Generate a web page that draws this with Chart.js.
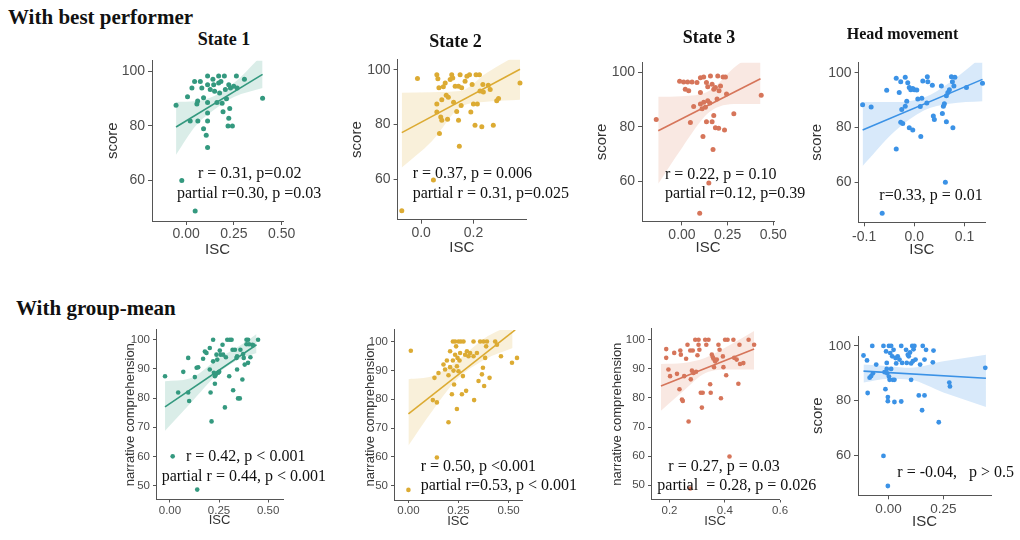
<!DOCTYPE html>
<html>
<head>
<meta charset="utf-8">
<script src="https://cdn.jsdelivr.net/npm/chart.js@4.4.1/dist/chart.umd.min.js"></script>
<style>
  body { margin: 0; background: #fff; }
  #page { position: relative; width: 1020px; height: 540px; overflow: hidden; background: #fff; }
  #page canvas { position: absolute; }
  .txt { position: absolute; white-space: pre; font-family: "Liberation Serif", "Times New Roman", serif; color: #111; line-height: 1; z-index: 5; }
  .hdr { font-weight: bold; font-size: 21px; }
  .ttl { font-weight: bold; text-align: center; width: 200px; }
</style>
</head>
<body>
<div id="page"></div>
<script>
// ---- With best performer: State 1
const bp1Isc = [-0.053, 0.007, 0.021, 0.030, 0.044, 0.056, 0.060, 0.061, 0.074, 0.082, 0.091, 0.091, 0.105, 0.112, 0.112, 0.112, 0.112, 0.112, 0.112, 0.126, 0.140, 0.144, 0.149, 0.161, 0.170, 0.170, 0.175, 0.182, 0.188, 0.193, 0.200, 0.205, 0.211, 0.223, 0.228, 0.223, 0.219, 0.242, 0.232, 0.249, 0.263, 0.267, 0.305, 0.400, -0.023, 0.047];
const bp1Score = [87.5, 90.6, 81.7, 93.8, 96.2, 87.9, 89.0, 81.7, 96.2, 93.8, 90.2, 78.9, 76.5, 98.2, 95.0, 88.5, 84.6, 81.7, 72.0, 93.2, 97.0, 95.0, 92.6, 88.5, 98.2, 95.6, 92.0, 96.2, 88.2, 85.1, 98.2, 93.2, 89.9, 95.0, 86.3, 82.7, 79.9, 79.9, 93.8, 94.4, 98.2, 93.8, 97.0, 90.0, 59.9, 48.8];
const bp1LineX = [-0.053, 0.40];
const bp1LineY = [79.5, 98.8];
const bp1BandX = [-0.053, 0.05, 0.15, 0.25, 0.40];
const bp1BandHi = [88.7, 89.0, 91.0, 95.6, 106];
const bp1BandLo = [69.4, 80.0, 86.0, 90.5, 93.8];

// ---- With best performer: State 2
const bp2Isc = [-0.074, -0.014, 0.047, 0.060, 0.064, 0.068, 0.060, 0.070, 0.075, 0.079, 0.079, 0.085, 0.092, 0.096, 0.101, 0.104, 0.111, 0.117, 0.121, 0.124, 0.130, 0.136, 0.143, 0.143, 0.146, 0.149, 0.153, 0.155, 0.168, 0.175, 0.185, 0.190, 0.195, 0.200, 0.206, 0.210, 0.215, 0.223, 0.225, 0.232, 0.236, 0.238, 0.257, 0.264, 0.276, 0.289, 0.296, 0.378, 0.060];
const bp2Score = [48.4, 96.8, 59.6, 98.2, 96.7, 93.4, 87.5, 76.7, 82.7, 81.5, 89.0, 93.8, 95.2, 90.7, 81.9, 89.9, 96.4, 98.2, 97.0, 88.1, 94.0, 84.7, 81.5, 94.0, 72.0, 98.2, 86.9, 93.4, 95.8, 97.6, 98.2, 84.5, 94.6, 87.5, 79.7, 98.2, 87.5, 98.2, 92.2, 79.1, 94.6, 91.9, 94.3, 92.8, 79.7, 88.7, 89.5, 95.2, 84.5];
const bp2LineX = [-0.074, 0.378];
const bp2LineY = [77.0, 100.2];
const bp2BandX = [-0.074, 0.04, 0.15, 0.25, 0.378];
const bp2BandHi = [91.6, 91.8, 92.2, 98.8, 106];
const bp2BandLo = [64.2, 73.7, 86.3, 88.3, 89.0];

// ---- With best performer: State 3
const bp3Isc = [-0.141, 0.046, 0.064, -0.013, 0.009, 0.031, 0.055, 0.082, 0.018, 0.037, 0.101, 0.119, 0.134, 0.141, 0.156, 0.165, 0.174, 0.183, 0.196, 0.203, 0.211, 0.225, 0.238, 0.101, 0.110, 0.119, 0.101, 0.128, 0.134, 0.115, 0.141, 0.152, 0.165, 0.174, 0.183, 0.201, 0.192, 0.170, 0.233, 0.244, 0.284, 0.434, 0.147, 0.097];
const bp3Score = [82.7, 81.6, 87.5, 96.7, 96.4, 96.4, 96.4, 96.2, 93.8, 93.2, 98.0, 98.3, 96.2, 94.7, 98.6, 95.6, 93.8, 94.4, 98.6, 93.2, 95.0, 98.3, 98.3, 88.4, 86.6, 89.0, 92.6, 87.2, 81.9, 76.5, 89.6, 88.7, 81.9, 84.2, 79.7, 79.5, 90.2, 71.7, 78.9, 92.0, 84.8, 91.6, 59.5, 48.4];
const bp3LineX = [-0.13, 0.43];
const bp3LineY = [78.6, 97.6];
const bp3BandX = [-0.13, 0.0, 0.15, 0.30, 0.43];
const bp3BandHi = [91.0, 91.2, 93.2, 102.5, 107];
const bp3BandLo = [59.2, 72.3, 85.4, 88.4, 88.4];

// ---- With best performer: Head movement
const bp4Isc = [-0.103, -0.086, -0.055, -0.036, -0.030, -0.027, -0.018, -0.013, -0.010, -0.007, -0.003, 0.000, 0.005, 0.007, -0.015, -0.025, -0.018, -0.027, -0.023, -0.010, -0.003, -0.036, 0.013, 0.015, 0.012, 0.017, 0.026, 0.027, 0.025, 0.036, 0.038, 0.040, 0.054, 0.056, 0.058, 0.060, 0.064, 0.064, 0.067, 0.070, 0.074, 0.076, 0.079, 0.081, 0.077, 0.104, 0.136, 0.062, -0.064];
const bp4Score = [88.3, 87.5, 93.6, 98.0, 92.8, 96.7, 98.4, 96.4, 94.6, 93.8, 94.3, 93.8, 93.7, 90.4, 89.6, 86.6, 87.8, 81.9, 81.5, 79.9, 79.1, 72.2, 76.7, 90.7, 87.7, 97.0, 98.6, 96.7, 89.0, 95.5, 84.2, 82.9, 95.2, 85.1, 87.8, 88.7, 82.1, 91.6, 92.8, 93.8, 98.6, 96.7, 95.2, 98.4, 79.9, 94.6, 96.2, 60.0, 48.7];
const bp4LineX = [-0.103, 0.136];
const bp4LineY = [79.1, 97.6];
const bp4BandX = [-0.103, -0.04, 0.02, 0.07, 0.136];
const bp4BandHi = [89.3, 89.3, 91.0, 96.4, 106];
const bp4BandLo = [66.0, 78.5, 86.3, 88.7, 89.6];

// ---- With group-mean: State 1
const gm1Isc = [-0.025, 0.042, 0.068, 0.093, 0.093, 0.098, 0.127, 0.136, 0.144, 0.169, 0.178, 0.186, 0.203, 0.203, 0.207, 0.212, 0.220, 0.220, 0.224, 0.229, 0.229, 0.234, 0.237, 0.241, 0.246, 0.251, 0.254, 0.258, 0.268, 0.271, 0.280, 0.285, 0.292, 0.302, 0.305, 0.314, 0.319, 0.322, 0.331, 0.339, 0.342, 0.342, 0.347, 0.356, 0.359, 0.369, 0.373, 0.376, 0.381, 0.390, 0.390, 0.398, 0.398, 0.403, 0.410, 0.420, 0.424, 0.449, 0.014, 0.139];
const gm1Comp = [87.5, 81.9, 89.0, 93.8, 81.9, 79.0, 87.2, 90.4, 90.6, 93.5, 96.0, 95.5, 97.2, 89.8, 81.9, 72.0, 100, 92.6, 88.7, 84.9, 87.5, 88.1, 94.9, 93.2, 88.7, 89.0, 96.3, 94.9, 98.3, 94.9, 76.8, 94.0, 100, 87.5, 100, 100, 96.6, 82.7, 96.6, 93.8, 94.3, 89.8, 79.9, 79.9, 96.6, 86.4, 95.1, 93.8, 91.5, 100, 98.5, 100, 92.1, 98.5, 94.0, 98.3, 98.1, 100, 60.0, 48.6];
const gm1LineX = [-0.025, 0.441];
const gm1LineY = [77.0, 98.3];
const gm1BandX = [-0.025, 0.10, 0.25, 0.35, 0.441];
const gm1BandHi = [85.8, 86.7, 93.8, 97.7, 102.0];
const gm1BandLo = [68.8, 77.9, 88.7, 93.2, 95.5];

// ---- With group-mean: State 2
const gm2Isc = [0.012, 0.000, 0.142, 0.130, 0.150, 0.122, 0.142, 0.192, 0.200, 0.200, 0.208, 0.208, 0.217, 0.222, 0.222, 0.225, 0.228, 0.233, 0.233, 0.238, 0.242, 0.242, 0.245, 0.250, 0.250, 0.255, 0.258, 0.262, 0.267, 0.272, 0.275, 0.283, 0.288, 0.292, 0.300, 0.308, 0.325, 0.325, 0.328, 0.342, 0.350, 0.358, 0.367, 0.372, 0.375, 0.378, 0.383, 0.388, 0.392, 0.405, 0.433, 0.442, 0.462, 0.517, 0.542, 0.175, 0.183];
const gm2Comp = [96.8, 48.6, 59.8, 87.4, 89.1, 79.7, 78.9, 93.4, 72.0, 88.3, 91.1, 96.6, 81.7, 100, 93.4, 89.9, 85.1, 100, 95.4, 98.3, 91.4, 76.6, 94.3, 100, 89.7, 93.4, 96.0, 100, 81.7, 88.0, 100, 95.4, 82.9, 96.6, 94.9, 96.0, 100, 94.9, 79.7, 96.0, 86.3, 100, 88.6, 90.9, 100, 84.6, 94.3, 98.3, 100, 87.4, 100, 98.9, 94.9, 92.6, 94.3, 92.0, 90.3];
const gm2LineX = [0.0, 0.533];
const gm2LineY = [74.9, 104.0];
const gm2BandX = [0.0, 0.12, 0.25, 0.38, 0.52];
const gm2BandHi = [86.9, 88.0, 93.7, 101.1, 106];
const gm2BandLo = [64.0, 76.0, 87.4, 93.7, 97.7];

// ---- With group-mean: State 3
const gm3Isc = [0.188, 0.188, 0.196, 0.202, 0.217, 0.227, 0.236, 0.239, 0.241, 0.245, 0.248, 0.253, 0.260, 0.265, 0.269, 0.275, 0.277, 0.281, 0.284, 0.287, 0.293, 0.296, 0.301, 0.305, 0.305, 0.308, 0.313, 0.317, 0.320, 0.329, 0.333, 0.341, 0.347, 0.349, 0.353, 0.357, 0.359, 0.361, 0.365, 0.371, 0.377, 0.381, 0.386, 0.393, 0.395, 0.401, 0.405, 0.410, 0.417, 0.431, 0.434, 0.443, 0.449, 0.453, 0.455, 0.467, 0.486, 0.506, 0.275];
const gm3Comp = [96.8, 93.8, 89.8, 87.5, 95.5, 88.3, 83.0, 96.3, 94.9, 79.5, 79.0, 87.5, 93.5, 98.3, 71.9, 96.3, 86.4, 89.4, 96.3, 88.6, 100, 89.0, 94.7, 100, 98.3, 96.6, 81.8, 76.7, 81.8, 100, 98.3, 100, 84.7, 81.8, 94.9, 94.0, 93.5, 90.6, 92.6, 93.2, 98.3, 96.6, 79.9, 94.3, 90.6, 100, 87.8, 100, 59.9, 100, 93.8, 93.2, 84.9, 98.3, 91.7, 92.0, 100, 98.3, 48.9];
const gm3LineX = [0.169, 0.506];
const gm3LineY = [84.1, 96.8];
const gm3BandX = [0.169, 0.25, 0.33, 0.42, 0.506];
const gm3BandHi = [91.7, 92.0, 93.8, 98.3, 103.0];
const gm3BandLo = [75.6, 82.4, 88.6, 89.8, 89.8];

// ---- With group-mean: Head movement
const gm4Isc = [-0.114, -0.098, -0.095, -0.086, -0.079, -0.071, -0.074, -0.056, -0.023, -0.018, -0.014, -0.011, -0.008, -0.008, -0.003, -0.003, -0.006, 0.002, 0.002, 0.005, 0.008, 0.012, 0.012, 0.017, 0.020, 0.023, 0.027, 0.027, 0.032, 0.035, 0.042, 0.050, 0.058, 0.058, 0.062, 0.080, 0.083, 0.088, 0.092, 0.098, 0.103, 0.103, 0.108, 0.111, 0.114, 0.118, 0.123, 0.138, 0.144, 0.153, 0.156, 0.164, 0.164, 0.171, 0.202, 0.205, 0.229, 0.277, 0.280, 0.441, -0.023, -0.003];
const gm4Score = [96.5, 94.7, 82.8, 88.4, 89.0, 90.0, 100, 93.2, 100, 90.4, 84.2, 98.0, 93.8, 91.6, 81.3, 79.8, 90.0, 100, 88.8, 87.6, 97.4, 100, 91.6, 96.2, 87.6, 98.6, 87.6, 79.5, 95.6, 93.6, 96.2, 95.0, 100, 79.7, 93.8, 98.6, 93.8, 96.8, 96.2, 97.6, 93.6, 87.6, 100, 94.4, 98.8, 100, 95.0, 81.9, 93.2, 76.5, 100, 81.9, 95.0, 98.6, 94.0, 98.3, 72.1, 86.6, 85.2, 92.0, 59.8, 48.8];
const gm4LineX = [-0.114, 0.444];
const gm4LineY = [90.8, 88.2];
const gm4BandX = [-0.114, 0.0, 0.10, 0.25, 0.444];
const gm4BandHi = [93.2, 92.6, 92.0, 94.4, 96.8];
const gm4BandLo = [86.6, 88.0, 87.6, 83.0, 77.7];

// ---- tick labels
const yTicksScore = [60, 80, 100];
const yTicksComp = [50, 60, 70, 80, 90, 100];
const xTicksQuarter = [0, 0.25, 0.5];
const xTicksTenth2 = [0.0, 0.2];
const xTicksHead = [-0.1, 0.0, 0.1];
const xTicksGm3 = [0.2, 0.4, 0.6];
const xTicksGm4 = [0, 0.25];

const TEAL = '#34997f', GOLD = '#dcab33', SALMON = '#d6755a', BLUE = '#3b92e6';
const TEAL_BAND = 'rgba(52,153,127,0.18)', GOLD_BAND = 'rgba(225,180,70,0.2)',
      SALMON_BAND = 'rgba(220,125,95,0.18)', BLUE_BAND = 'rgba(59,146,230,0.2)';

const panels = [
  { x: bp1Isc, y: bp1Score, lx: bp1LineX, ly: bp1LineY, bx: bp1BandX, hi: bp1BandHi, lo: bp1BandLo,
    color: TEAL, band: TEAL_BAND, area: [152, 56.7, 283, 221], xr: [-0.179, 0.507], yr: [45.1, 103.9],
    xt: xTicksQuarter, xd: 2, yt: yTicksScore, yTitle: 'score', yw: 48, xh: 38, ts: 14, ls: 15, tl: 4, xpad: 1, r: 2.5 },
  { x: bp2Isc, y: bp2Score, lx: bp2LineX, ly: bp2LineY, bx: bp2BandX, hi: bp2BandHi, lo: bp2BandLo,
    color: GOLD, band: GOLD_BAND, area: [397.3, 56, 526, 220], xr: [-0.090, 0.401], yr: [45.1, 103.8],
    xt: xTicksTenth2, xd: 1, yt: yTicksScore, yTitle: 'score', yw: 49.6, xh: 37.3, ts: 14, ls: 15, tl: 4, xpad: 1, r: 2.5 },
  { x: bp3Isc, y: bp3Score, lx: bp3LineX, ly: bp3LineY, bx: bp3BandX, hi: bp3BandHi, lo: bp3BandLo,
    color: SALMON, band: SALMON_BAND, area: [641.7, 59.3, 773.3, 221.7], xr: [-0.219, 0.504], yr: [45.4, 103.6],
    xt: xTicksQuarter, xd: 2, yt: yTicksScore, yTitle: 'score', yw: 49, xh: 35.6, ts: 14, ls: 15, tl: 4, xpad: 1, r: 2.5 },
  { x: bp4Isc, y: bp4Score, lx: bp4LineX, ly: bp4LineY, bx: bp4BandX, hi: bp4BandHi, lo: bp4BandLo,
    color: BLUE, band: BLUE_BAND, area: [858.3, 59.3, 985, 222.3], xr: [-0.111, 0.141], yr: [45.4, 103.8],
    xt: xTicksHead, xd: 1, yt: yTicksScore, yTitle: 'score', yw: 50.6, xh: 36.7, ts: 14, ls: 15, tl: 4, xpad: 2, r: 2.5 },
  { x: gm1Isc, y: gm1Comp, lx: gm1LineX, ly: gm1LineY, bx: gm1BandX, hi: gm1BandHi, lo: gm1BandLo,
    color: TEAL, band: TEAL_BAND, area: [156, 328.3, 283.3, 499.3], xr: [-0.071, 0.576], yr: [45.2, 103.4],
    xt: xTicksQuarter, xd: 2, yt: yTicksComp, yTitle: 'narrative comprehension', yw: 33, xh: 28.5, ts: 11.5, ls: 13, tl: 3, xpad: 1, r: 2.3 },
  { x: gm2Isc, y: gm2Comp, lx: gm2LineX, ly: gm2LineY, bx: gm2BandX, hi: gm2BandHi, lo: gm2BandLo,
    color: GOLD, band: GOLD_BAND, area: [394, 328.3, 521.7, 500], xr: [-0.072, 0.567], yr: [45.1, 104],
    xt: xTicksQuarter, xd: 2, yt: yTicksComp, yTitle: 'narrative comprehension', yw: 31, xh: 29, ts: 11.5, ls: 13, tl: 3, xpad: 1, r: 2.3 },
  { x: gm3Isc, y: gm3Comp, lx: gm3LineX, ly: gm3LineY, bx: gm3BandX, hi: gm3BandHi, lo: gm3BandLo,
    color: SALMON, band: SALMON_BAND, area: [650.7, 327.3, 779, 499.3], xr: [0.133, 0.596], yr: [45.1, 103.75],
    xt: xTicksGm3, xd: 1, yt: yTicksComp, yTitle: 'narrative comprehension', yw: 41, xh: 29.5, ts: 11.5, ls: 13, tl: 3, xpad: 1, r: 2.3 },
  { x: gm4Isc, y: gm4Score, lx: gm4LineX, ly: gm4LineY, bx: gm4BandX, hi: gm4BandHi, lo: gm4BandLo,
    color: BLUE, band: BLUE_BAND, area: [858.3, 332.7, 991.7, 495], xr: [-0.139, 0.467], yr: [45.4, 103.6],
    xt: xTicksGm4, xd: 2, yt: yTicksScore, yTitle: 'score', yw: 49, xh: 35.7, ts: 13.5, ls: 15, tl: 4, xpad: 2, r: 2.4 }
];

const zip = (xs, ys) => xs.map((v, i) => ({ x: v, y: ys[i] }));
const page = document.getElementById('page');
const AXIS = '#555';
const SANS = '"Liberation Sans", Arial, sans-serif';
const PAD_TOP = 8, PAD_RIGHT = 24;

panels.forEach(p => {
  const [L, T, R, B] = p.area;
  const cv = document.createElement('canvas');
  const w = Math.round(R - L + p.yw + PAD_RIGHT), h = Math.round(B - T + p.xh + PAD_TOP);
  cv.width = w; cv.height = h;
  cv.style.left = (L - p.yw) + 'px';
  cv.style.top = (T - PAD_TOP) + 'px';
  cv.style.width = w + 'px'; cv.style.height = h + 'px';
  page.appendChild(cv);

  new Chart(cv.getContext('2d'), {
    type: 'scatter',
    data: {
      datasets: [
        { type: 'scatter', data: zip(p.x, p.y), backgroundColor: p.color, borderColor: p.color,
          pointRadius: p.r, pointBorderWidth: 0 },
        { type: 'line', data: zip(p.lx, p.ly), borderColor: p.color, borderWidth: 1.6, pointRadius: 0, fill: false },
        { type: 'line', data: zip(p.bx, p.hi), borderColor: 'rgba(0,0,0,0)', borderWidth: 0, pointRadius: 0,
          backgroundColor: p.band, fill: '+1', cubicInterpolationMode: 'monotone' },
        { type: 'line', data: zip(p.bx, p.lo), borderColor: 'rgba(0,0,0,0)', borderWidth: 0, pointRadius: 0,
          fill: false, cubicInterpolationMode: 'monotone' }
      ]
    },
    options: {
      responsive: false, animation: false, events: [],
      layout: { padding: { top: PAD_TOP, right: PAD_RIGHT, left: 0, bottom: 0 } },
      plugins: { legend: { display: false }, tooltip: { enabled: false } },
      scales: {
        x: {
          type: 'linear', min: p.xr[0], max: p.xr[1],
          afterBuildTicks: s => { s.ticks = p.xt.map(v => ({ value: v })); },
          afterFit: s => { s.height = p.xh; },
          ticks: { callback: v => v.toFixed(p.xd), color: '#4d4d4d', font: { family: SANS, size: p.ts }, padding: p.xpad, maxRotation: 0 },
          grid: { drawOnChartArea: false, drawTicks: true, tickLength: p.tl, color: AXIS },
          border: { display: true, color: AXIS, width: 1 },
          title: { display: true, text: 'ISC', color: '#333', font: { family: SANS, size: p.ls }, padding: 0 }
        },
        y: {
          type: 'linear', min: p.yr[0], max: p.yr[1],
          afterBuildTicks: s => { s.ticks = p.yt.map(v => ({ value: v })); },
          afterFit: s => { s.width = p.yw; },
          ticks: { callback: v => String(v), color: '#4d4d4d', font: { family: SANS, size: p.ts }, padding: 3 },
          grid: { drawOnChartArea: false, drawTicks: true, tickLength: p.tl, color: AXIS },
          border: { display: true, color: AXIS, width: 1 },
          title: { display: true, text: p.yTitle, color: '#333', font: { family: SANS, size: p.ls }, padding: 0 }
        }
      }
    }
  });
});

// ---- text: headers, panel titles, statistics
const texts = [
  { t: 'With best performer', cls: 'hdr', x: 8, y: 7.4 },
  { t: 'With group-mean', cls: 'hdr', x: 16, y: 298.4 },
  { t: 'State 1', cls: 'ttl', cx: 224, y: 30, s: 18 },
  { t: 'State 2', cls: 'ttl', cx: 455.5, y: 31.6, s: 18 },
  { t: 'State 3', cls: 'ttl', cx: 709, y: 27.6, s: 18 },
  { t: 'Head movement', cls: 'ttl', cx: 902.5, y: 25.6, s: 16 },
  { t: 'r = 0.31, p=0.02', x: 198, y: 165, s: 16 },
  { t: 'partial r=0.30, p =0.03', x: 177, y: 185, s: 16 },
  { t: 'r = 0.37, p = 0.006', x: 412.7, y: 165.3, s: 16 },
  { t: 'partial r = 0.31, p=0.025', x: 412.7, y: 185.3, s: 16 },
  { t: 'r = 0.22, p = 0.10', x: 665, y: 166.3, s: 16 },
  { t: 'partial r=0.12, p=0.39', x: 665, y: 185.3, s: 16 },
  { t: 'r=0.33, p = 0.01', x: 879.3, y: 187, s: 16 },
  { t: 'r = 0.42, p < 0.001', x: 186, y: 448, s: 16 },
  { t: 'partial r = 0.44, p < 0.001', x: 161.7, y: 468, s: 16 },
  { t: 'r = 0.50, p <0.001', x: 420.7, y: 457.7, s: 16 },
  { t: 'partial r=0.53, p < 0.001', x: 420.7, y: 477, s: 16 },
  { t: 'r = 0.27, p = 0.03', x: 668.3, y: 457.7, s: 16 },
  { t: 'partial  = 0.28, p = 0.026', x: 657.3, y: 477, s: 16 },
  { t: 'r = -0.04,   p > 0.5', x: 897.3, y: 463.7, s: 16 }
];
texts.forEach(o => {
  const d = document.createElement('div');
  d.className = 'txt ' + (o.cls || '');
  d.textContent = o.t;
  if (o.s) d.style.fontSize = o.s + 'px';
  d.style.top = o.y + 'px';
  d.style.left = (o.cx !== undefined ? o.cx - 100 : o.x) + 'px';
  page.appendChild(d);
});
</script>
</body>
</html>
